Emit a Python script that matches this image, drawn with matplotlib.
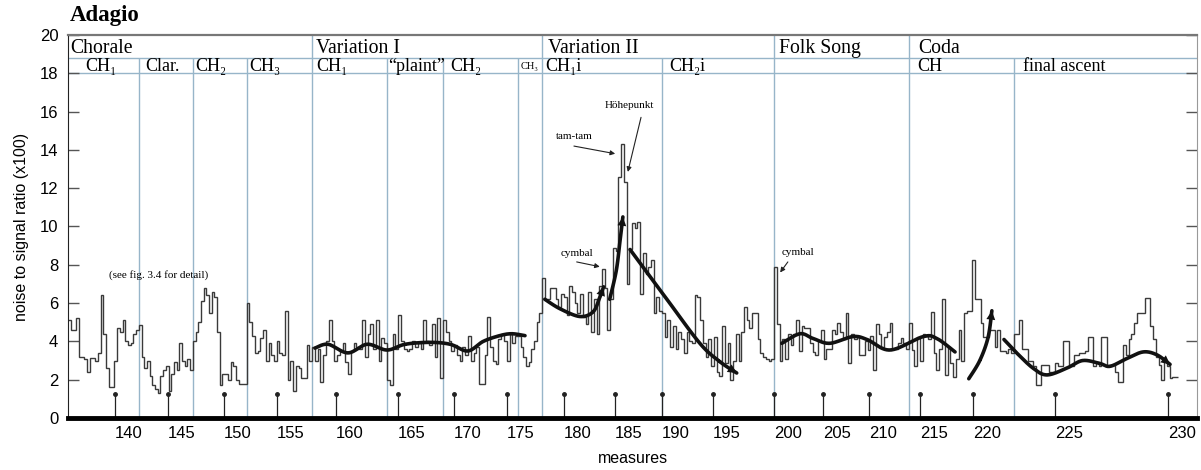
import numpy as np
import matplotlib
matplotlib.use("Agg")
import matplotlib.pyplot as plt

plt.rcParams['font.family'] = ['Liberation Sans', 'DejaVu Sans']
SERIF = ['Liberation Serif', 'DejaVu Serif']

# time axis (seconds) with measure numbers as tick labels
measure_ticks = [140, 145, 150, 155, 160, 165, 170, 175, 180, 185,
                 190, 195, 200, 205, 210, 215, 220, 225, 230]
measure_times = [8.5, 18.2, 28.4, 38.0, 48.7, 60.0, 70.2, 79.8, 90.2, 99.5,
                 108.0, 117.3, 128.4, 137.3, 145.6, 154.9, 164.5, 179.5, 200.0]

# section boundaries (seconds) and noise/signal values per section
section_bounds = [0, 12.9, 22.7, 32.5, 44.4, 58.0, 68.2, 81.8, 86.2,
                  108.0, 128.4, 152.9, 172.0, 201.8]
section_starts = [44.4, 86.2, 128.4, 152.9]

nsr_chorale_ch1 = [5.1, 4.6, 4.6, 5.2, 3.2, 3.2, 3.1, 2.4, 3.15, 3.15, 3.0, 3.4, 6.4,
                   4.4, 2.6, 1.6, 1.6, 3.0, 4.7, 4.5, 5.1, 4.0, 3.8, 3.9, 4.4, 4.6]
nsr_clar = [4.85, 3.2, 2.6, 3.0, 2.2, 1.7, 1.5, 1.3, 2.2, 2.5, 2.7, 1.4, 2.3, 2.9,
            2.5, 3.9, 3.0, 2.7, 3.1, 2.5]
nsr_chorale_ch2 = [4.0, 4.5, 5.0, 6.1, 6.8, 6.4, 5.5, 6.6, 6.3, 4.5, 1.7, 2.3, 2.3,
                   2.0, 2.9, 2.7, 2.0, 1.8, 1.75, 1.75]
nsr_chorale_ch3 = [6.0, 5.0, 4.3, 3.4, 3.5, 4.2, 4.6, 3.0, 3.9, 3.3, 3.0, 4.0, 3.4,
                   3.3, 5.6, 2.0, 3.0, 1.4, 2.7, 2.6, 2.1, 2.1, 3.8, 3.0]
nsr_var1_ch1 = [3.7, 3.0, 3.6, 1.9, 3.3, 4.0, 5.1, 4.0, 3.0, 3.3, 3.5, 3.9, 2.9, 2.3,
                3.5, 3.9, 3.7, 3.6, 5.1, 3.2, 4.4, 4.9, 3.6, 5.1, 3.0, 4.2, 3.9]
nsr_plaint = [2.0, 1.7, 4.4, 3.6, 5.4, 4.0, 3.6, 3.5, 3.6, 4.0, 3.7, 3.9, 3.6, 5.1,
              4.0, 3.8, 4.9, 3.2, 5.2, 2.1]
nsr_var1_ch2 = [5.1, 4.5, 4.0, 3.5, 3.8, 3.3, 3.0, 3.7, 3.3, 4.3, 3.0, 3.4, 3.7, 1.8,
                1.8, 3.3, 5.3, 3.7, 3.0, 2.8, 4.1, 4.4, 4.0, 3.0, 4.4, 3.9, 4.3]
nsr_var1_ch3 = [4.3, 3.7, 3.2, 2.7, 2.9, 3.6, 4.0, 5.0, 5.5]
nsr_var2_ch1 = [7.3, 6.2, 6.2, 6.8, 6.8, 6.2, 5.8, 6.5, 6.3, 5.4, 6.9, 6.6, 6.0, 5.5,
                6.5, 5.3, 4.9, 6.6, 4.5, 6.2, 4.4, 6.9, 7.8, 6.8, 4.6, 6.2, 8.9, 8.7,
                12.6, 14.3, 12.3, 7.0, 8.8, 10.2, 9.9, 10.25, 6.5, 8.6, 7.5, 7.9, 8.25,
                5.5, 6.3, 5.6]
nsr_var2_ch2 = [5.5, 4.25, 5.1, 3.7, 4.8, 3.6, 4.5, 4.1, 3.4, 4.5, 4.0, 3.9, 6.4, 6.3,
                5.1, 3.9, 3.2, 4.1, 2.7, 4.25, 2.4, 2.2, 4.8, 2.85, 3.9, 2.0, 3.0, 4.4,
                3.0, 4.5, 5.8, 5.1, 4.7, 5.5, 5.5, 4.1, 3.4, 3.2, 3.1, 3.0, 3.1]
nsr_folk = [7.9, 4.9, 3.0, 4.1, 3.1, 4.4, 3.8, 4.4, 5.1, 3.5, 4.8, 4.7, 4.7, 3.9, 3.45,
            3.3, 4.0, 4.6, 3.1, 3.6, 3.6, 4.6, 4.4, 4.95, 4.5, 4.1, 5.5, 2.85, 4.4, 4.1,
            4.25, 3.3, 3.3, 4.0, 3.55, 4.3, 2.5, 4.9, 4.4, 3.7, 4.25, 4.5, 4.95, 3.6,
            3.6, 3.9, 4.2, 3.9, 3.6]
nsr_coda_ch = [4.95, 3.55, 2.7, 4.25, 3.0, 4.4, 4.3, 4.1, 5.55, 3.4, 2.5, 3.6, 6.2,
               2.25, 3.7, 2.85, 2.15, 3.1, 4.6, 3.0, 5.5, 5.6, 5.6, 8.25, 6.2, 6.2,
               4.95, 4.25, 4.25, 4.6, 4.6, 3.7, 4.6, 3.5, 3.5, 3.4, 3.6, 3.4]
nsr_final = [4.4, 4.4, 5.1, 3.6, 3.6, 3.0, 3.0, 2.7, 1.7, 1.7, 2.75, 2.75, 2.75, 2.4,
             2.4, 2.85, 2.7, 2.7, 4.0, 4.0, 2.7, 2.7, 3.3, 3.3, 3.4, 3.4, 3.5, 4.25,
             4.25, 2.7, 2.9, 2.7, 4.25, 4.25, 2.7, 2.75, 2.75, 2.4, 1.9, 1.9, 3.8, 3.3,
             4.1, 4.4, 4.95, 5.5, 5.5, 5.5, 6.25, 6.25, 4.8, 4.15, 3.2, 2.75, 2.0, 3.0,
             2.7, 2.1, 2.15, 2.15]

nsr_sections = [nsr_chorale_ch1, nsr_clar, nsr_chorale_ch2, nsr_chorale_ch3,
                nsr_var1_ch1, nsr_plaint, nsr_var1_ch2, nsr_var1_ch3,
                nsr_var2_ch1, nsr_var2_ch2, nsr_folk, nsr_coda_ch, nsr_final]

# hand-drawn trend curves (time, value)
trend_var1 = ([44.9, 47.3, 50.9, 54.4, 58.0, 61.3, 65.8, 69.5, 72.7, 75.5, 78.5, 80.7, 83.1],
              [3.65, 3.85, 3.4, 3.85, 3.55, 3.85, 3.95, 3.85, 3.5, 4.0, 4.3, 4.4, 4.3])
trend_var2a = ([86.7, 89.5, 93.1, 95.5, 96.7, 97.4],
               [6.2, 5.7, 5.3, 5.55, 6.3, 6.85])
trend_var2b = ([98.5, 99.7, 100.4, 100.9], [6.2, 7.7, 9.3, 10.5])
trend_var2c = ([102.2, 108.9, 114.9, 118.5, 121.6], [8.8, 6.2, 3.9, 2.95, 2.35])
trend_folk = ([129.8, 133.1, 135.5, 138.5, 142.7, 145.3, 149.5, 155.5, 158.0, 161.3],
              [3.9, 4.4, 4.15, 3.9, 4.25, 4.1, 3.55, 4.25, 4.15, 3.45])
trend_coda = ([163.8, 165.8, 167.3, 168.0], [2.05, 3.0, 4.2, 5.6])
trend_final = ([170.2, 172.5, 175.5, 178.0, 181.6, 184.5, 187.6, 189.5, 192.5, 195.5, 198.0, 200.4],
               [4.1, 3.4, 2.6, 2.25, 2.6, 3.0, 2.85, 2.7, 3.1, 3.45, 3.3, 2.8])

section_names = [("Chorale", 0.5), ("Variation I", 45.1), ("Variation II", 87.3),
                 ("Folk Song", 129.3), ("Coda", 154.7)]
sub_names = [("CH\u2081", 3.1), ("Clar.", 14.0), ("CH\u2082", 23.1), ("CH\u2083", 32.9),
             ("CH\u2081", 45.1), ("\u201cplaint\u201d", 58.2), ("CH\u2082", 69.5),
             ("CH\u2081i", 86.8), ("CH\u2082i", 109.3), ("CH", 154.5),
             ("final ascent", 173.6)]


def smooth(xs, ys, n=25):
    # Catmull-Rom spline through the given points
    p = np.column_stack([xs, ys]).astype(float)
    p = np.vstack([p[0], p, p[-1]])
    t = np.linspace(0, 1, n)[:, None]
    segs = []
    for i in range(1, len(p) - 2):
        p0, p1, p2, p3 = p[i - 1], p[i], p[i + 1], p[i + 2]
        segs.append(0.5 * (2 * p1 + (-p0 + p2) * t
                           + (2 * p0 - 5 * p1 + 4 * p2 - p3) * t ** 2
                           + (-p0 + 3 * p1 - 3 * p2 + p3) * t ** 3))
    return np.vstack(segs)


fig = plt.figure(figsize=(12.01, 4.70), dpi=100)
ax = fig.add_axes([68 / 1201, 1 - 418 / 470, (1197 - 68) / 1201, (418 - 35) / 470])
ax.set_xlim(0, 205.3)
ax.set_ylim(0, 20)

line_col = '#97b5c9'

# header rows and section lines
ax.axhline(18.8, color=line_col, lw=1.0, zorder=1)
ax.axhline(18.0, color=line_col, lw=1.0, zorder=1)
for b in section_bounds[1:-1]:
    top = 20 if b in section_starts else 18.8
    ax.vlines(b, 0, top, color=line_col, lw=1.0, zorder=1)

for name, t in section_names:
    ax.text(t, 19.3, name, family=SERIF, fontsize=14.2, va='center', ha='left')
for name, t in sub_names:
    ax.text(t, 18.33, name, family=SERIF, fontsize=13, va='center', ha='left')
ax.text(82.3, 18.36, "CH\u2083", family=SERIF, fontsize=7.5, va='center', ha='left')

# noise-to-signal histogram
edges = []
for i, vals in enumerate(nsr_sections):
    edges.append(np.linspace(section_bounds[i], section_bounds[i + 1], len(vals) + 1)[:-1])
edges = np.concatenate(edges + [[section_bounds[-1]]])
values = np.concatenate(nsr_sections)
ax.stairs(values, edges, baseline=None, color='#3a3a3a', lw=1.0, zorder=2)

# measure stems
ax.vlines(measure_times, 0, 1.25, color='#222222', lw=0.9, zorder=2)
ax.plot(measure_times, np.full(len(measure_times), 1.25), 'o', color='#222222', ms=2.5, zorder=2)

# trend curves
for tr, arrow in [(trend_var1, False), (trend_var2a, True), (trend_var2b, True),
                  (trend_var2c, True), (trend_folk, False), (trend_coda, True),
                  (trend_final, True)]:
    c = smooth(*tr)
    ax.plot(c[:, 0], c[:, 1], color='#111111', lw=2.6, solid_capstyle='round', zorder=4)
    if arrow:
        ax.annotate('', xy=c[-1], xytext=c[-6],
                    arrowprops=dict(arrowstyle='-|>', color='#111111', lw=0,
                                    mutation_scale=16, shrinkA=0, shrinkB=0), zorder=5)

# annotations
note = dict(family=SERIF, fontsize=8, ha='center', va='center')
thin = dict(arrowstyle='-|>', color='#222222', lw=0.8, mutation_scale=7, shrinkA=0, shrinkB=0)
ax.text(16.5, 7.45, "(see fig. 3.4 for detail)", **note)
ax.text(92.0, 14.7, "tam-tam", **note)
ax.annotate('', xy=(99.5, 13.8), xytext=(92.0, 14.2), arrowprops=thin)
ax.text(102.0, 16.3, "H\u00f6hepunkt", **note)
ax.annotate('', xy=(101.8, 12.85), xytext=(104.2, 15.7), arrowprops=thin)
ax.text(92.5, 8.6, "cymbal", **note)
ax.annotate('', xy=(96.7, 7.9), xytext=(92.5, 8.15), arrowprops=thin)
ax.text(132.7, 8.65, "cymbal", **note)
ax.annotate('', xy=(129.5, 7.6), xytext=(130.9, 8.15), arrowprops=thin)

# axes styling
ax.set_xticks(measure_times)
ax.set_xticklabels([str(m) for m in measure_ticks])
for lab in ax.get_xticklabels():
    lab.set_horizontalalignment('left')
ax.tick_params(axis='x', length=0, pad=6, labelsize=12)
ax.set_yticks(np.arange(0, 21, 2))
ax.tick_params(axis='y', direction='in', length=8, width=1, pad=7, labelsize=12,
               right=True, color='#555555')
ax.spines['bottom'].set_linewidth(3.5)
ax.spines['bottom'].set_color('black')
ax.spines['left'].set_color('#222222')
ax.spines['top'].set_color('#777777')
ax.spines['top'].set_linewidth(1.6)
ax.spines['right'].set_color('#999999')
ax.set_xlabel("measures", fontsize=11.5, labelpad=7)
ax.set_ylabel("noise to signal ratio (x100)", fontsize=11.5, labelpad=8)

fig.text(70 / 1201, 1 - 16 / 470, "Adagio", family=SERIF, fontsize=16.5,
         fontweight='bold', va='center', ha='left')

fig.savefig("out.png", dpi=100)
